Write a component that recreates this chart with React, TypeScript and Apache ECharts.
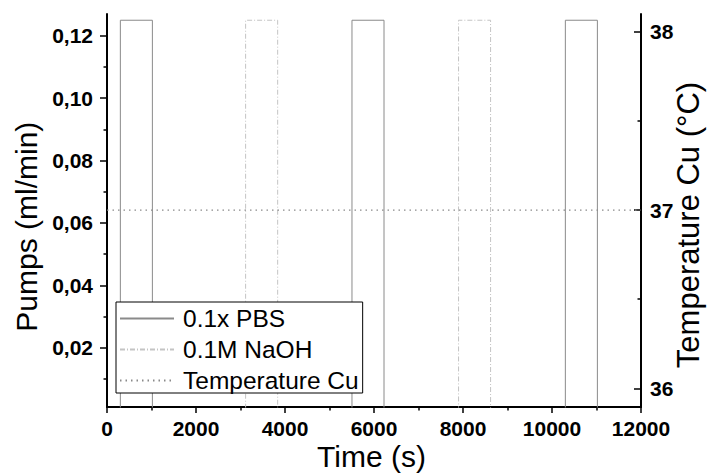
import React, { useEffect, useRef } from "react";
import * as echarts from "echarts";

// ---- data ----
const pbsTimes = [0, 300, 300, 1020, 1020, 5505, 5505, 6225, 6225, 10300, 10300, 11020, 11020, 12000];
const pbsValues = [0, 0, 0.125, 0.125, 0, 0, 0.125, 0.125, 0, 0, 0.125, 0.125, 0, 0];
const naohTimes = [0, 3115, 3115, 3835, 3835, 7900, 7900, 8620, 8620, 12000];
const naohValues = [0, 0, 0.125, 0.125, 0, 0, 0.125, 0.125, 0, 0];
const tempTimes = [0, 12000];
const tempValues = [37, 37];

const pumpMajorTicks = [0.02, 0.04, 0.06, 0.08, 0.1, 0.12];
const pumpMinorTicks = [0.01, 0.03, 0.05, 0.07, 0.09, 0.11];
const tempMajorTicks = [36, 37, 38];
const tempMinorTicks = [36.5, 37.5];

const seriesNames = ["0.1x PBS", "0.1M NaOH", "Temperature Cu"];

const FONT = '"Liberation Sans", Arial, sans-serif';

const zip = (xs: number[], ys: number[]) => xs.map((x, i) => [x, ys[i]]);

export default function App() {
  const ref = useRef<HTMLDivElement>(null);
  useEffect(() => {
    if (!ref.current) return;
    const chart = echarts.init(ref.current, null, { renderer: "svg" });
    const labelStyle = { color: "#000", fontFamily: FONT, fontWeight: "bold" as const, fontSize: 21 };
    const axisLineStyle = { color: "#000", width: 2 };
    const tickStyle = { color: "#000", width: 1.5 };
    const titleStyle = (text: string, size: number) => ({
      text,
      fill: "#000",
      fontFamily: FONT,
      fontSize: size,
      align: "center",
      verticalAlign: "middle",
      textAlign: "center",
      textVerticalAlign: "middle",
    });
    chart.setOption({
      animation: false,
      backgroundColor: "#fff",
      grid: { left: 107, right: 66, top: 14, bottom: 66, containLabel: false },
      xAxis: {
        type: "value",
        min: 0,
        max: 12000,
        interval: 2000,
        axisLine: { show: true, onZero: false, lineStyle: axisLineStyle },
        axisTick: { show: true, inside: false, length: 6, lineStyle: tickStyle },
        minorTick: { show: true, splitNumber: 2, length: 3.5, lineStyle: tickStyle },
        splitLine: { show: false },
        axisLabel: { ...labelStyle, margin: 11, formatter: (v: number) => String(v) },
      },
      yAxis: [
        {
          type: "value",
          position: "left",
          min: 0.001,
          max: 0.127,
          axisLine: { show: true, onZero: false, lineStyle: axisLineStyle },
          axisTick: { show: true, inside: false, length: 7, customValues: pumpMajorTicks, lineStyle: tickStyle },
          axisLabel: {
            ...labelStyle,
            margin: 14,
            customValues: pumpMajorTicks,
            formatter: (v: number) => v.toFixed(2).replace(".", ","),
          },
          splitLine: { show: false },
        },
        {
          type: "value",
          position: "right",
          min: 35.895,
          max: 38.1,
          axisLine: { show: true, onZero: false, lineStyle: axisLineStyle },
          axisTick: { show: true, inside: true, length: 7, customValues: tempMajorTicks, lineStyle: tickStyle },
          axisLabel: { ...labelStyle, margin: 9, customValues: tempMajorTicks },
          splitLine: { show: false },
        },
        {
          type: "value",
          position: "left",
          min: 0.001,
          max: 0.127,
          axisLine: { show: false },
          axisTick: { show: true, inside: false, length: 3.5, customValues: pumpMinorTicks, lineStyle: tickStyle },
          axisLabel: { show: false },
          splitLine: { show: false },
        },
        {
          type: "value",
          position: "right",
          min: 35.895,
          max: 38.1,
          axisLine: { show: false },
          axisTick: { show: true, inside: true, length: 3.5, customValues: tempMinorTicks, lineStyle: tickStyle },
          axisLabel: { show: false },
          splitLine: { show: false },
        },
      ],
      legend: {
        orient: "vertical",
        left: 116,
        top: 302,
        data: seriesNames,
        itemWidth: 54,
        itemHeight: 14,
        itemGap: 6,
        padding: [4, 4, 0, 3],
        borderColor: "#000",
        borderWidth: 1,
        borderRadius: 0,
        backgroundColor: "#fff",
        selectedMode: false,
        itemStyle: { opacity: 0 },
        textStyle: { color: "#000", fontFamily: FONT, fontSize: 24.5, padding: [0, 0, 0, 4] },
      },
      series: [
        {
          name: seriesNames[0],
          type: "line",
          yAxisIndex: 0,
          data: zip(pbsTimes, pbsValues),
          symbol: "none",
          lineStyle: { color: "#8a8a8a", width: 1, type: "solid" },
          itemStyle: { color: "#8a8a8a" },
          z: 3,
        },
        {
          name: seriesNames[1],
          type: "line",
          yAxisIndex: 0,
          data: zip(naohTimes, naohValues),
          symbol: "none",
          lineStyle: { color: "#c4c4c4", width: 1, type: [5, 2, 1, 2] },
          itemStyle: { color: "#c4c4c4" },
          z: 2,
        },
        {
          name: seriesNames[2],
          type: "line",
          yAxisIndex: 1,
          data: zip(tempTimes, tempValues),
          symbol: "none",
          lineStyle: { color: "#8a8a8a", width: 1.2, type: [1.5, 4] },
          itemStyle: { color: "#8a8a8a" },
          z: 2,
        },
      ],
      graphic: [
        { type: "text", x: 26.4, y: 226.7, rotation: Math.PI / 2, style: titleStyle("Pumps (ml/min)", 30) },
        { type: "text", x: 688, y: 225, rotation: Math.PI / 2, style: titleStyle("Temperature Cu (°C)", 31) },
        { type: "text", x: 371.5, y: 456, style: titleStyle("Time (s)", 30) },
      ],
    });
    return () => chart.dispose();
  }, []);
  return <div ref={ref} style={{ width: 707, height: 473, position: "absolute", left: 0, top: 0 }} />;
}
